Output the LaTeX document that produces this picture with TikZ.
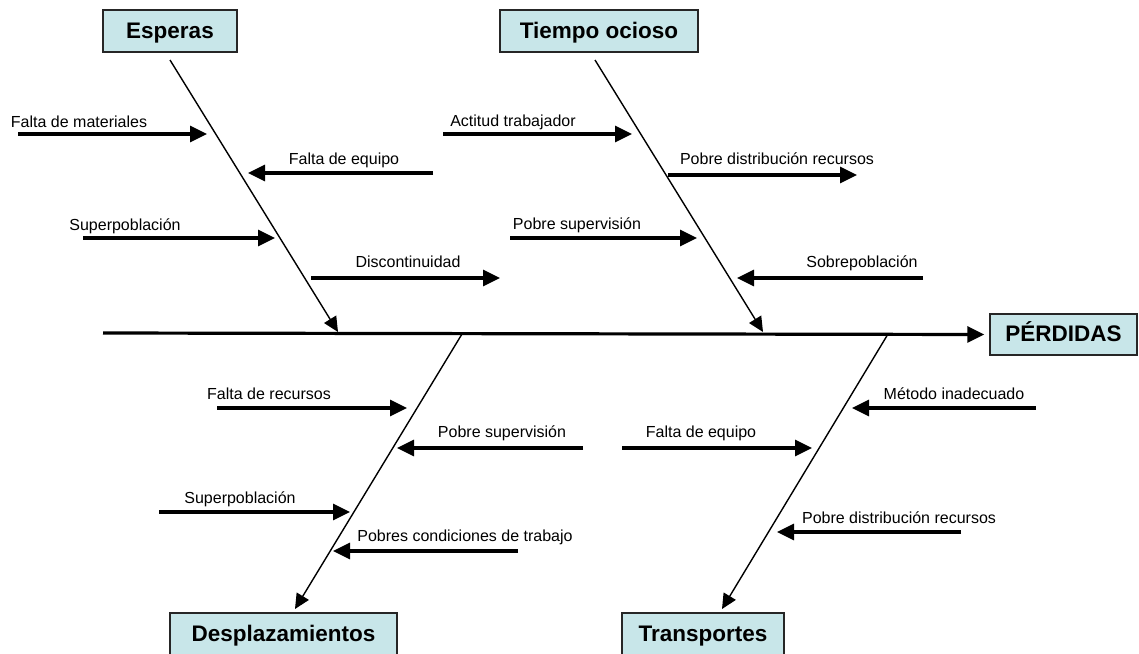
\documentclass[tikz,border=0pt]{standalone}
\usepackage{fontspec}
\setmainfont{Liberation Sans}
\usetikzlibrary{arrows.meta}
\definecolor{boxfill}{RGB}{200,230,233}
\begin{document}
\begin{tikzpicture}[x=1pt,y=-1pt,
  titlebox/.style={draw=black!85, line width=1.5pt, fill=boxfill, minimum height=42pt,
    inner sep=0pt, text height=16.5pt, text depth=2.5pt,
    font=\fontsize{22.5}{26}\selectfont\bfseries},
  lbl/.style={anchor=base, inner sep=0pt, font=\fontsize{16}{18}\selectfont},
  cause/.style={line width=3.2pt, -{Triangle[length=17pt,width=16pt]}},
  bone/.style={line width=1.4pt, -{Triangle[length=15pt,width=14pt]}},
  spine/.style={line width=3.2pt, -{Triangle[length=17pt,width=16pt]}}]
\useasboundingbox (0,0) rectangle (1139,653);
% title boxes
\node[titlebox, minimum width=134pt] (esp) at (170,31) {Esperas};
\node[titlebox, minimum width=198pt] (tie) at (599,31) {Tiempo ocioso};
\node[titlebox, minimum width=147pt, minimum height=41pt] (per) at (1063.5,334.5) {PÉRDIDAS};
\node[titlebox, minimum width=227pt] (des) at (283.5,634) {Desplazamientos};
\node[titlebox, minimum width=162pt] (tra) at (703,634) {Transportes};
% spine and bones
\coordinate (s0) at (103,333);
\draw[spine] (s0) -- ([xshift=-5pt]per.west);
\coordinate (eb0) at (170,60);  \coordinate (eb1) at (338,332);
\coordinate (tb0) at (595,60);  \coordinate (tb1) at (763,332);
\coordinate (db0) at (462,334); \coordinate (db1) at (295,609);
\coordinate (rb0) at (888,334); \coordinate (rb1) at (722,609);
\draw[bone] (eb0) -- (eb1);
\draw[bone] (tb0) -- (tb1);
\draw[bone] (db0) -- (db1);
\draw[bone] (rb0) -- (rb1);
% causes: Esperas
\coordinate (a1s) at (18,134);  \coordinate (a1e) at (207,134);
\coordinate (a2s) at (433,173); \coordinate (a2e) at (248,173);
\coordinate (a3s) at (83,238);  \coordinate (a3e) at (275,238);
\coordinate (a4s) at (311,278); \coordinate (a4e) at (500,278);
\draw[cause] (a1s) -- (a1e);
\draw[cause] (a2s) -- (a2e);
\draw[cause] (a3s) -- (a3e);
\draw[cause] (a4s) -- (a4e);
\node[lbl] (t1) at (79,127) {Falta de materiales};
\node[lbl] (t2) at (344,164) {Falta de equipo};
\node[lbl] (t3) at (125,230) {Superpoblación};
\node[lbl] (t4) at (408,267) {Discontinuidad};
% causes: Tiempo ocioso
\coordinate (b1s) at (443,134); \coordinate (b1e) at (632,134);
\coordinate (b2s) at (668,175); \coordinate (b2e) at (857,175);
\coordinate (b3s) at (510,238); \coordinate (b3e) at (697,238);
\coordinate (b4s) at (923,278); \coordinate (b4e) at (737,278);
\draw[cause] (b1s) -- (b1e);
\draw[cause] (b2s) -- (b2e);
\draw[cause] (b3s) -- (b3e);
\draw[cause] (b4s) -- (b4e);
\node[lbl] (u1) at (513,126) {Actitud trabajador};
\node[lbl] (u2) at (777,164) {Pobre distribución recursos};
\node[lbl] (u3) at (577,229) {Pobre supervisión};
\node[lbl] (u4) at (862,267) {Sobrepoblación};
% causes: Desplazamientos
\coordinate (c1s) at (217,408); \coordinate (c1e) at (407,408);
\coordinate (c2s) at (583,448); \coordinate (c2e) at (397,448);
\coordinate (c3s) at (159,512); \coordinate (c3e) at (350,512);
\coordinate (c4s) at (518,551); \coordinate (c4e) at (333,551);
\draw[cause] (c1s) -- (c1e);
\draw[cause] (c2s) -- (c2e);
\draw[cause] (c3s) -- (c3e);
\draw[cause] (c4s) -- (c4e);
\node[lbl] (v1) at (269,399) {Falta de recursos};
\node[lbl] (v2) at (502,437) {Pobre supervisión};
\node[lbl] (v3) at (240,503) {Superpoblación};
\node[lbl] (v4) at (465,541) {Pobres condiciones de trabajo};
% causes: Transportes
\coordinate (d1s) at (1036,408); \coordinate (d1e) at (852,408);
\coordinate (d2s) at (622,448);  \coordinate (d2e) at (812,448);
\coordinate (d3s) at (961,532);  \coordinate (d3e) at (777,532);
\draw[cause] (d1s) -- (d1e);
\draw[cause] (d2s) -- (d2e);
\draw[cause] (d3s) -- (d3e);
\node[lbl] (w1) at (954,399) {Método inadecuado};
\node[lbl] (w2) at (701,437) {Falta de equipo};
\node[lbl] (w3) at (899,523) {Pobre distribución recursos};
\end{tikzpicture}
\end{document}
